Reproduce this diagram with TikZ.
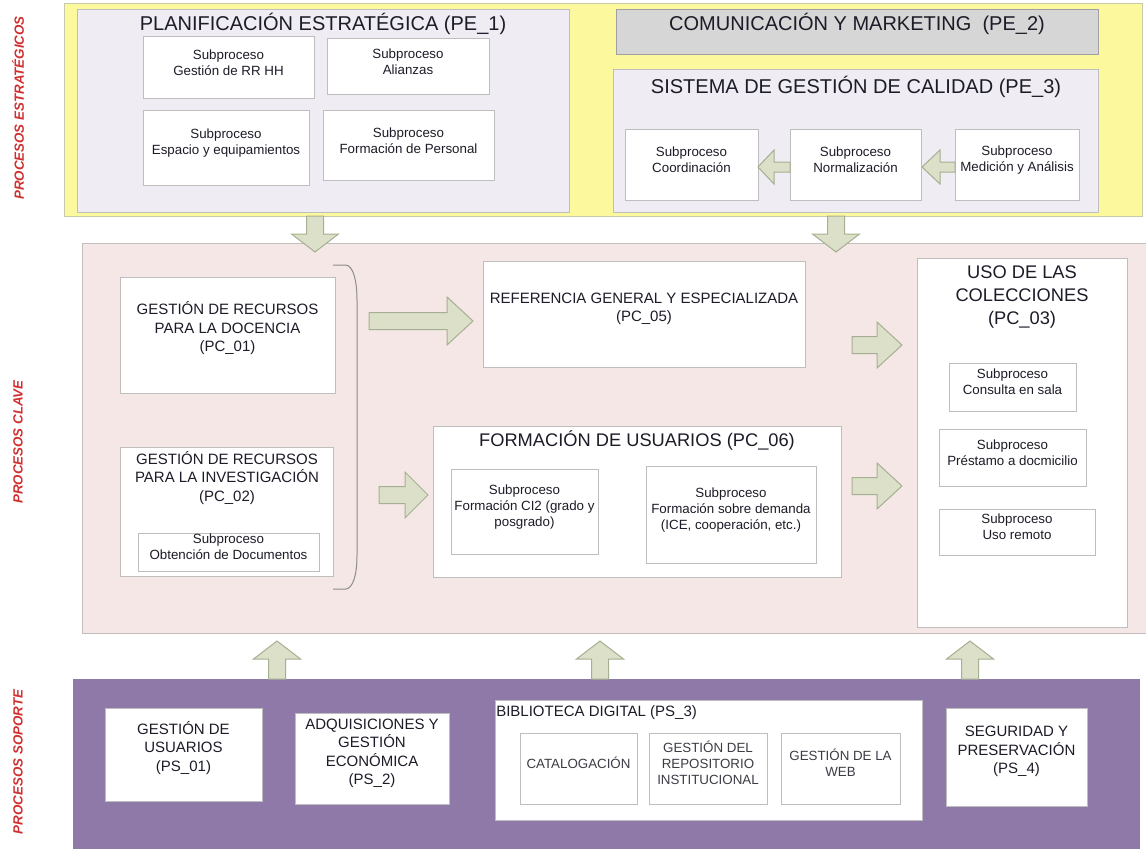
\documentclass[tikz,border=0pt]{standalone}
\usepackage{fontspec}
\setmainfont{Liberation Sans}
\usetikzlibrary{fit}
\definecolor{yel}{RGB}{251,248,158}
\definecolor{yeldraw}{RGB}{200,200,170}
\definecolor{lav}{RGB}{239,237,243}
\definecolor{boxdraw}{RGB}{190,190,190}
\definecolor{commgray}{RGB}{214,214,214}
\definecolor{commdraw}{RGB}{160,160,160}
\definecolor{pinkfill}{RGB}{246,231,231}
\definecolor{pinkdraw}{RGB}{195,190,190}
\definecolor{purp}{RGB}{143,121,168}
\definecolor{arrfill}{RGB}{220,224,201}
\definecolor{arrdraw}{RGB}{165,175,145}
\definecolor{txt}{RGB}{28,28,40}
\definecolor{txtgray}{RGB}{60,60,70}
\definecolor{sidered}{RGB}{208,48,48}
\tikzset{
 band/.style={inner sep=0pt, line width=0.75pt},
 wbox/.style={draw=boxdraw, fill=white, line width=0.75pt, inner sep=0pt, align=center, text=txt},
 lbox/.style={wbox, fill=lav},
 small/.style={font=\fontsize{10}{12}\selectfont},
 medium/.style={font=\fontsize{11.25}{13.9}\selectfont},
 big/.style={font=\fontsize{15}{18}\selectfont},
 mid/.style={font=\fontsize{13.7}{17.6}\selectfont},
 ttl/.style={text=txt, align=center, inner sep=0pt},
 sidelab/.style={font=\fontsize{10}{12}\selectfont\bfseries\itshape, text=sidered, rotate=90, inner sep=0pt},
 blockarrow/.style={draw=arrdraw, fill=arrfill, line width=0.75pt, line join=miter},
 bracketline/.style={draw=black!45, line width=0.75pt},
}
\newcommand{\bx}[7]{\node[#2, fit={(#3,#4) (#5,#6)}] (#1) {#7};}
\newcommand{\harrow}[6]{\draw[blockarrow] (#1,{#4-#5}) -- (#2,{#4-#5}) -- (#2,{#4-#6}) -- (#3,#4) -- (#2,{#4+#6}) -- (#2,{#4+#5}) -- (#1,{#4+#5}) -- cycle;}
\newcommand{\varrow}[6]{\draw[blockarrow] ({#1-#5},#2) -- ({#1-#5},#3) -- ({#1-#6},#3) -- (#1,#4) -- ({#1+#6},#3) -- ({#1+#5},#3) -- ({#1+#5},#2) -- cycle;}
\begin{document}
\begin{tikzpicture}[x=0.75pt,y=-0.75pt]
\useasboundingbox (0,0) rectangle (1146,849);
% side labels
\node[sidelab] (lab1) at (18,108) {PROCESOS ESTRATÉGICOS};
\node[sidelab] (lab2) at (18,442) {PROCESOS CLAVE};
\node[sidelab] (lab3) at (18,762) {PROCESOS SOPORTE};
% bands
\bx{yband}{band, draw=yeldraw, fill=yel}{64}{4}{1142}{216}{}
\bx{pband}{band, draw=pinkdraw, fill=pinkfill}{82}{243}{1147}{633}{}
\bx{sband}{band, fill=purp}{73}{679}{1140}{850}{}
% ---- strategic ----
\bx{pe1}{lbox}{77}{10}{569}{212}{}
\node[ttl, big] (pe1t) at (323,24) {PLANIFICACIÓN ESTRATÉGICA (PE\_1)};
\bx{rrhh}{wbox, small}{143}{37}{314}{99}{Subproceso\\Gestión de RR HH}
\bx{ali}{wbox, small}{327}{39}{489}{95}{Subproceso\\Alianzas}
\bx{esp}{wbox, small}{143}{111}{309}{185}{Subproceso\\Espacio y equipamientos}
\bx{forp}{wbox, small}{323}{111}{494}{180}{Subproceso\\Formación de Personal}
\bx{pe2}{wbox, fill=commgray, draw=commdraw, big}{616}{10}{1098}{55}{COMUNICACIÓN Y MARKETING~~(PE\_2)}
\bx{pe3}{lbox}{613}{70}{1098}{212}{}
\node[ttl, big] (pe3t) at (856,87) {SISTEMA DE GESTIÓN DE CALIDAD (PE\_3)};
\bx{coord}{wbox, small}{625}{129}{758}{200}{Subproceso\\Coordinación}
\bx{norm}{wbox, small}{790}{129}{921}{200}{Subproceso\\Normalización}
\bx{med}{wbox, small}{955}{129}{1079}{200}{Subproceso\\Medición y Análisis}
\harrow{790}{774}{758}{167}{5}{17}
\harrow{955}{940}{922}{167}{5}{17}
% ---- key ----
\bx{pc01}{wbox, medium}{120}{277}{335}{393}{GESTIÓN DE RECURSOS\\PARA LA DOCENCIA\\(PC\_01)}
\bx{pc02}{wbox}{120}{447}{333}{576}{}
\node[ttl, medium] (pc02t) at (227,478) {GESTIÓN DE RECURSOS\\PARA LA INVESTIGACIÓN\\(PC\_02)};
\bx{obt}{wbox, small}{138}{533}{319}{571}{Subproceso\\Obtención de Documentos}
\draw[bracketline] (333,265) -- (346,265) .. controls (353,266) and (357,280) .. (357,300) -- (357,555) .. controls (357,575) and (353,588) .. (346,589) -- (333,589);
\bx{pc05}{wbox, medium}{483}{261}{805}{367}{REFERENCIA GENERAL Y ESPECIALIZADA\\(PC\_05)}
\bx{pc06}{wbox}{433}{426}{841}{577}{}
\node[ttl, mid] (pc06t) at (637,440) {FORMACIÓN DE USUARIOS (PC\_06)};
\bx{ci2}{wbox, small}{451}{469}{598}{554}{Subproceso\\Formación CI2 (grado y\\posgrado)}
\bx{dem}{wbox, small}{646}{466}{816}{563}{Subproceso\\Formación sobre demanda\\(ICE, cooperación, etc.)}
\bx{pc03}{wbox}{917}{258}{1127}{627}{}
\node[ttl, mid] (pc03t) at (1022,297) {USO DE LAS\\COLECCIONES\\(PC\_03)};
\bx{cons}{wbox, small}{949}{363}{1076}{411}{Subproceso\\Consulta en sala}
\bx{pres}{wbox, small}{939}{429}{1086}{486}{Subproceso\\Préstamo a docmicilio}
\bx{uso}{wbox, small}{939}{509}{1095}{555}{Subproceso\\Uso remoto}
\harrow{369}{447}{473}{321}{8.5}{24}
\harrow{379}{405}{428}{495}{8.5}{23}
\harrow{852}{877}{902}{345}{8.5}{23}
\harrow{852}{877}{902}{486}{8.5}{23}
% ---- support ----
\bx{ps1}{wbox, medium}{105}{708}{262}{801}{GESTIÓN DE\\USUARIOS\\(PS\_01)}
\bx{ps2}{wbox, medium}{295}{713}{449}{804}{ADQUISICIONES Y\\GESTIÓN\\ECONÓMICA\\(PS\_2)}
\bx{ps3}{wbox}{495}{700}{922}{820}{}
\node[ttl, medium, anchor=west] (ps3t) at (496,713) {BIBLIOTECA DIGITAL (PS\_3)};
\bx{cat}{wbox, small, text=txtgray}{520}{733}{637}{804}{CATALOGACIÓN}
\bx{rep}{wbox, small, text=txtgray}{649}{733}{767}{804}{GESTIÓN DEL\\REPOSITORIO\\INSTITUCIONAL}
\bx{web}{wbox, small, text=txtgray}{781}{733}{900}{804}{GESTIÓN DE LA\\WEB}
\bx{ps4}{wbox, medium}{946}{708}{1087}{806}{SEGURIDAD Y\\PRESERVACIÓN\\(PS\_4)}
% ---- vertical arrows ----
\varrow{315}{216}{234}{252}{8.5}{23.5}
\varrow{836}{216}{234}{252}{8.5}{23.5}
\varrow{277}{679}{659}{641}{8.5}{23.5}
\varrow{600}{679}{659}{641}{8.5}{23.5}
\varrow{970}{679}{659}{641}{8.5}{23.5}
\end{tikzpicture}
\end{document}
